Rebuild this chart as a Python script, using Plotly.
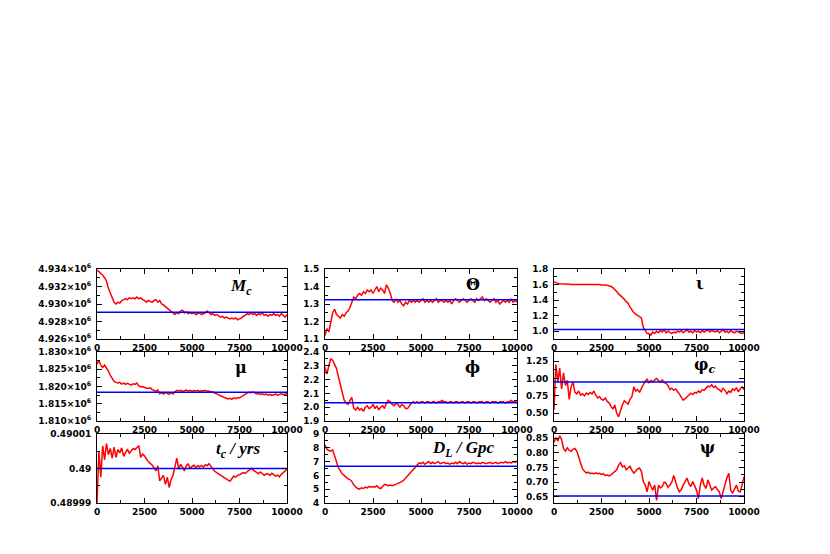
import plotly.graph_objects as go

# MCMC iteration index (every 100th sample shown)
iterations = list(range(0, 10001, 100))

# ---- chain values ----
mc_1e6 = [4.9339, 4.9337, 4.9336, 4.9333, 4.9330, 4.9326, 4.9318, 4.9312, 4.9306, 4.9302,
          4.9300, 4.9302, 4.9301, 4.9304, 4.9305, 4.9306, 4.9305, 4.9307, 4.9306, 4.9307,
          4.9306, 4.9308, 4.9306, 4.9307, 4.9305, 4.9304, 4.9302, 4.9304, 4.9303, 4.9302,
          4.9304, 4.9305, 4.9302, 4.9304, 4.9300, 4.9299, 4.9297, 4.9295, 4.9293, 4.9292,
          4.9290, 4.9288, 4.9290, 4.9289, 4.9292, 4.9293, 4.9290, 4.9291, 4.9289, 4.9290,
          4.9289, 4.9290, 4.9288, 4.9289, 4.9290, 4.9288, 4.9289, 4.9290, 4.9292, 4.9290,
          4.9288, 4.9289, 4.9287, 4.9288, 4.9286, 4.9285, 4.9286, 4.9284, 4.9285, 4.9284,
          4.9283, 4.9284, 4.9283, 4.9284, 4.9282, 4.9283, 4.9284, 4.9286, 4.9287, 4.9289,
          4.9288, 4.9290, 4.9288, 4.9289, 4.9287, 4.9289, 4.9288, 4.9290, 4.9287, 4.9288,
          4.9286, 4.9288, 4.9287, 4.9289, 4.9287, 4.9288, 4.9286, 4.9289, 4.9287, 4.9285,
          4.9288]

theta = [1.12, 1.16, 1.14, 1.19, 1.25, 1.27, 1.24, 1.23, 1.22, 1.24,
         1.23, 1.25, 1.26, 1.28, 1.31, 1.34, 1.33, 1.35, 1.36, 1.35,
         1.37, 1.36, 1.38, 1.37, 1.38, 1.36, 1.38, 1.40, 1.37, 1.39,
         1.38, 1.36, 1.41, 1.39, 1.36, 1.32, 1.31, 1.33, 1.31, 1.32,
         1.30, 1.29, 1.31, 1.30, 1.32, 1.31, 1.32, 1.31, 1.32, 1.31,
         1.32, 1.33, 1.31, 1.32, 1.31, 1.32, 1.31, 1.32, 1.33, 1.31,
         1.32, 1.32, 1.31, 1.32, 1.31, 1.32, 1.30, 1.32, 1.33, 1.32,
         1.31, 1.32, 1.33, 1.32, 1.31, 1.32, 1.33, 1.32, 1.31, 1.33,
         1.32, 1.33, 1.34, 1.32, 1.33, 1.32, 1.31, 1.32, 1.33, 1.31,
         1.32, 1.30, 1.31, 1.32, 1.31, 1.32, 1.31, 1.33, 1.31, 1.32,
         1.31]

iota = [1.635, 1.62, 1.615, 1.61, 1.61, 1.605, 1.61, 1.605, 1.605, 1.60,
        1.60, 1.605, 1.60, 1.60, 1.60, 1.605, 1.60, 1.60, 1.60, 1.60,
        1.60, 1.60, 1.60, 1.60, 1.60, 1.595, 1.60, 1.595, 1.59, 1.585,
        1.575, 1.56, 1.54, 1.51, 1.48, 1.46, 1.43, 1.41, 1.38, 1.36,
        1.31, 1.27, 1.24, 1.22, 1.20, 1.19, 1.17, 1.05, 1.00, 0.97,
        0.97, 0.95, 0.99, 0.97, 1.00, 0.98, 1.01, 0.99, 1.02, 0.98,
        1.00, 0.99, 0.97, 0.99, 0.98, 1.00, 0.99, 1.01, 0.98, 1.00,
        1.02, 0.99, 1.00, 0.98, 1.01, 0.99, 1.00, 0.98, 1.01, 0.99,
        1.00, 1.02, 0.99, 1.01, 1.00, 0.99, 1.01, 0.98, 1.00, 1.02,
        0.99, 1.00, 0.98, 1.01, 0.99, 0.98, 1.00, 0.99, 0.98, 0.97,
        0.98]

mu_1e6 = [1.8265, 1.8275, 1.8262, 1.8255, 1.8262, 1.8255, 1.8245, 1.8232, 1.8222, 1.8215,
          1.8212, 1.8210, 1.8212, 1.8207, 1.8210, 1.8206, 1.8209, 1.8207, 1.8204, 1.8208,
          1.8206, 1.8210, 1.8202, 1.8199, 1.8200, 1.8197, 1.8196, 1.8194, 1.8196, 1.8191,
          1.8189, 1.8186, 1.8190, 1.8179, 1.8182, 1.8178, 1.8183, 1.8180, 1.8177, 1.8182,
          1.8178, 1.8185, 1.8189, 1.8187, 1.8189, 1.8186, 1.8188, 1.8190, 1.8187, 1.8189,
          1.8186, 1.8188, 1.8187, 1.8189, 1.8186, 1.8188, 1.8187, 1.8189, 1.8186, 1.8187,
          1.8184, 1.8185, 1.8181, 1.8178, 1.8176, 1.8173, 1.8170, 1.8168, 1.8166, 1.8164,
          1.8166, 1.8163, 1.8167, 1.8165, 1.8168, 1.8167, 1.8171, 1.8175, 1.8178, 1.8181,
          1.8183, 1.8182, 1.8184, 1.8181, 1.8179, 1.8180, 1.8177, 1.8179, 1.8176, 1.8178,
          1.8175, 1.8177, 1.8174, 1.8176, 1.8178, 1.8175, 1.8177, 1.8179, 1.8176, 1.8178,
          1.8180]

phi = [2.29, 2.24, 2.30, 2.35, 2.34, 2.31, 2.28, 2.22, 2.17, 2.11,
       2.05, 2.03, 2.02, 2.05, 2.07, 1.99, 1.98, 2.00, 1.98, 1.99,
       1.97, 2.00, 2.01, 1.99, 2.00, 2.02, 1.99, 2.01, 1.98, 2.00,
       2.01, 1.99, 2.03, 2.05, 2.04, 2.02, 2.01, 2.03, 2.02, 2.00,
       2.02, 2.01, 1.99, 1.99, 2.01, 2.03, 2.04, 2.03, 2.04, 2.03,
       2.04, 2.04, 2.03, 2.04, 2.04, 2.03, 2.04, 2.04, 2.03, 2.04,
       2.04, 2.05, 2.04, 2.04, 2.03, 2.04, 2.04, 2.03, 2.04, 2.04,
       2.03, 2.04, 2.04, 2.03, 2.04, 2.04, 2.03, 2.04, 2.04, 2.03,
       2.04, 2.04, 2.04, 2.03, 2.04, 2.04, 2.03, 2.04, 2.04, 2.04,
       2.03, 2.04, 2.04, 2.04, 2.03, 2.04, 2.04, 2.05, 2.04, 2.04,
       2.05]

phi_c = [0.55, 1.20, 0.95, 1.15, 0.85, 1.08, 0.90, 0.97, 0.70, 0.88,
         0.95, 0.80, 0.78, 0.82, 0.76, 0.78, 0.75, 0.79, 0.77, 0.80,
         0.78, 0.82, 0.76, 0.72, 0.74, 0.70, 0.69, 0.72, 0.67, 0.65,
         0.60, 0.56, 0.62, 0.50, 0.45, 0.55, 0.62, 0.68, 0.66, 0.63,
         0.70, 0.74, 0.88, 0.82, 0.84, 0.80, 0.86, 0.92, 0.96, 0.99,
         0.94, 0.97, 0.95, 0.98, 1.00, 0.97, 0.95, 0.98, 0.94, 0.93,
         0.90, 0.84, 0.86, 0.83, 0.85, 0.81, 0.78, 0.73, 0.69, 0.71,
         0.74, 0.76, 0.79, 0.77, 0.80, 0.79, 0.82, 0.80, 0.84, 0.83,
         0.86, 0.89, 0.88, 0.91, 0.87, 0.89, 0.85, 0.84, 0.81, 0.86,
         0.83, 0.78, 0.82, 0.80, 0.85, 0.83, 0.87, 0.81, 0.85, 0.88,
         0.84]

t_c = [0.4899900, 0.4900050, 0.4899975, 0.4900066, 0.4900025, 0.4900072, 0.4900040, 0.4900058, 0.4900030, 0.4900062,
       0.4900032, 0.4900055, 0.4900045, 0.4900060, 0.4900035, 0.4900048, 0.4900056, 0.4900044, 0.4900052, 0.4900058,
       0.4900055, 0.4900062, 0.4900066, 0.4900032, 0.4900042, 0.4900036, 0.4900027, 0.4900020, 0.4900015, 0.4900010,
       0.4900002, 0.4899993, 0.4900008, 0.4899964, 0.4899972, 0.4899980, 0.4899954, 0.4899975, 0.4899945, 0.4899968,
       0.4899980, 0.4900010, 0.4900030, 0.4899998, 0.4900012, 0.4900004, 0.4899993, 0.4900008, 0.4900013, 0.4900001,
       0.4900006, 0.4900010, 0.4900003, 0.4900008, 0.4900005, 0.4900009, 0.4900004, 0.4900011, 0.4900008, 0.4900014,
       0.4900006, 0.4899998, 0.4899992, 0.4899988, 0.4899984, 0.4899980, 0.4899976, 0.4899972, 0.4899969, 0.4899966,
       0.4899963, 0.4899972, 0.4899978, 0.4899975, 0.4899980, 0.4899982, 0.4899985, 0.4899988, 0.4899986, 0.4899992,
       0.4899995, 0.4900000, 0.4899996, 0.4899994, 0.4899988, 0.4899985, 0.4899990, 0.4899986, 0.4899980, 0.4899984,
       0.4899985, 0.4899980, 0.4899986, 0.4899982, 0.4899978, 0.4899981, 0.4899976, 0.4899983, 0.4899988, 0.4899993,
       0.4899998]

d_l = [8.2, 7.9, 7.8, 7.75, 7.85, 7.4, 6.9, 6.55, 6.35, 6.1,
       6.0, 5.85, 5.75, 5.7, 5.55, 5.3, 5.15, 5.05, 5.0, 5.1,
       5.05, 5.15, 5.1, 5.2, 5.15, 5.2, 5.15, 5.25, 5.1, 5.05,
       5.2, 5.35, 5.3, 5.25, 5.3, 5.25, 5.3, 5.35, 5.4, 5.45,
       5.55, 5.65, 5.8, 5.95, 6.1, 6.25, 6.45, 6.6, 6.75, 6.9,
       6.85, 6.95, 6.8, 6.9, 7.0, 6.85, 6.95, 6.85, 6.9, 7.0,
       6.85, 6.9, 6.95, 6.85, 6.9, 6.8, 6.9, 6.85, 6.95, 6.85,
       7.0, 6.9, 6.85, 6.95, 6.8, 6.9, 6.85, 6.95, 6.9, 6.85,
       6.9, 6.85, 6.95, 6.9, 6.85, 6.9, 6.95, 6.85, 6.9, 6.95,
       6.85, 6.9, 6.95, 6.9, 7.0, 6.9, 6.95, 6.9, 7.0, 6.95,
       7.05]

psi = [0.835, 0.852, 0.840, 0.858, 0.845, 0.815, 0.806, 0.817, 0.808, 0.805,
       0.812, 0.815, 0.806, 0.789, 0.765, 0.745, 0.737, 0.731, 0.734, 0.729,
       0.731, 0.728, 0.732, 0.729, 0.730, 0.726, 0.729, 0.722, 0.725, 0.721,
       0.725, 0.730, 0.735, 0.742, 0.758, 0.766, 0.752, 0.756, 0.742, 0.750,
       0.754, 0.740, 0.731, 0.737, 0.745, 0.748, 0.737, 0.702, 0.690, 0.667,
       0.702, 0.685, 0.673, 0.690, 0.638, 0.690, 0.680, 0.685, 0.700, 0.696,
       0.682, 0.690, 0.700, 0.723, 0.700, 0.680, 0.667, 0.675, 0.690, 0.700,
       0.714, 0.695, 0.685, 0.702, 0.690, 0.673, 0.644, 0.690, 0.714, 0.690,
       0.679, 0.708, 0.690, 0.673, 0.680, 0.685, 0.675, 0.667, 0.644, 0.670,
       0.696, 0.715, 0.730, 0.673, 0.662, 0.675, 0.690, 0.670, 0.667, 0.690,
       0.719]

# injected (true) parameter values, drawn as the blue lines
true_values = [4.92907, 1.325, 1.022, 1.8183, 2.032, 0.951, 0.49, 6.66, 0.653]

# panel titles
titles = ["<i><b>M<sub>c</sub></b></i>", "<b>Θ</b>", "<b>ι</b>",
          "<b>μ</b>", "<b>ϕ</b>", "<b>φ<sub><i>c</i></sub></b>",
          "<i><b>t<sub>c</sub> / yrs</b></i>", "<i><b>D<sub>L</sub> / Gpc</b></i>", "<b>ψ</b>"]

# y-axis ticks / labels
y_ticks = [
    [4.926, 4.928, 4.930, 4.932, 4.934],
    [1.1, 1.2, 1.3, 1.4, 1.5],
    [1.0, 1.2, 1.4, 1.6, 1.8],
    [1.810, 1.815, 1.820, 1.825, 1.830],
    [1.9, 2.0, 2.1, 2.2, 2.3, 2.4],
    [0.50, 0.75, 1.00, 1.25],
    [0.48999, 0.49, 0.49001],
    [4, 5, 6, 7, 8, 9],
    [0.65, 0.70, 0.75, 0.80, 0.85],
]
y_ticktext = [
    ["4.926×10<sup>6</sup>", "4.928×10<sup>6</sup>", "4.930×10<sup>6</sup>", "4.932×10<sup>6</sup>", "4.934×10<sup>6</sup>"],
    ["1.1", "1.2", "1.3", "1.4", "1.5"],
    ["1.0", "1.2", "1.4", "1.6", "1.8"],
    ["1.810×10<sup>6</sup>", "1.815×10<sup>6</sup>", "1.820×10<sup>6</sup>", "1.825×10<sup>6</sup>", "1.830×10<sup>6</sup>"],
    ["1.9", "2.0", "2.1", "2.2", "2.3", "2.4"],
    ["0.50", "0.75", "1.00", "1.25"],
    ["0.48999", "0.49", "0.49001"],
    ["4", "5", "6", "7", "8", "9"],
    ["0.65", "0.70", "0.75", "0.80", "0.85"],
]
y_ranges = [[4.926, 4.934], [1.1, 1.5], [0.9, 1.8], [1.810, 1.830], [1.9, 2.4],
            [0.39, 1.38], [0.48999, 0.49001], [4, 9], [0.629, 0.864]]
x_ticks = [0, 2500, 5000, 7500, 10000]
x_ticktext = ["0", "2500", "5000", "7500", "10000"]

series = [mc_1e6, theta, iota, mu_1e6, phi, phi_c, t_c, d_l, psi]

# ---- layout geometry ----
# page is 830x554; the browser puts the figure at an 8px body margin
PAGE_W, PAGE_H, OFF = 830, 554, 8
W, H = PAGE_W - 2 * OFF, PAGE_H - 2 * OFF
col_px = [(97, 287), (325, 517), (554, 744)]      # page pixels
row_px = [(269, 339), (352, 421), (434, 503)]
title_pos = [(0.76, 0.74), (0.77, 0.78), (0.77, 0.80),
             (0.76, 0.77), (0.77, 0.78), (0.79, 0.80),
             (0.74, 0.77), (0.72, 0.78), (0.81, 0.80)]

tick_font = dict(family="DejaVu Sans", size=9, color="black", weight="bold")

fig = go.Figure()
layout = dict(width=W, height=H, margin=dict(l=0, r=0, t=0, b=0, autoexpand=False),
              paper_bgcolor="white", plot_bgcolor="white", showlegend=False,
              annotations=[])

for i in range(9):
    r, c = divmod(i, 3)
    n = i + 1
    xa = "x" if n == 1 else f"x{n}"
    ya = "y" if n == 1 else f"y{n}"
    fig.add_trace(go.Scatter(x=iterations, y=series[i], mode="lines",
                             line=dict(color="#ff0000", width=1.5),
                             xaxis=xa, yaxis=ya, hoverinfo="skip"))
    fig.add_trace(go.Scatter(x=[iterations[0], iterations[-1]],
                             y=[true_values[i], true_values[i]], mode="lines",
                             line=dict(color="#0000ff", width=1.5),
                             xaxis=xa, yaxis=ya, hoverinfo="skip"))
    x0, x1 = col_px[c]
    y0, y1 = row_px[r]
    yt = y_ticks[i]
    ystep = yt[1] - yt[0]
    common = dict(showgrid=False, zeroline=False, showline=True, linecolor="black",
                  linewidth=1, mirror="allticks", ticks="inside", tickcolor="black",
                  ticklen=5, tickwidth=1, tickfont=tick_font, automargin=False)
    layout["xaxis" if n == 1 else f"xaxis{n}"] = dict(
        domain=[(x0 - OFF) / W, (x1 - OFF) / W], anchor=ya, range=[0, 10000],
        tickmode="array", tickvals=x_ticks, ticktext=x_ticktext,
        minor=dict(ticks="inside", ticklen=3, tickcolor="black", dtick=1250, tick0=0, showgrid=False),
        ticklabelstandoff=0,
        **common)
    layout["yaxis" if n == 1 else f"yaxis{n}"] = dict(
        domain=[1 - (y1 - OFF) / H, 1 - (y0 - OFF) / H], anchor=xa, range=y_ranges[i],
        tickmode="array", tickvals=yt, ticktext=y_ticktext[i],
        minor=dict(ticks="inside", ticklen=3, tickcolor="black", dtick=ystep / 2, tick0=yt[0], showgrid=False),
        ticklabelstandoff=3,
        **common)
    is_latin = i in (0, 6, 7)
    layout["annotations"].append(dict(
        text=titles[i], xref=f"{xa} domain", yref=f"{ya} domain",
        x=title_pos[i][0], y=title_pos[i][1], xanchor="center", yanchor="middle",
        showarrow=False,
        font=dict(family="Liberation Serif" if is_latin else "DejaVu Serif",
                  size=17 if is_latin else 16, color="black")))

fig.update_layout(**layout)
fig.write_html("out.html")
